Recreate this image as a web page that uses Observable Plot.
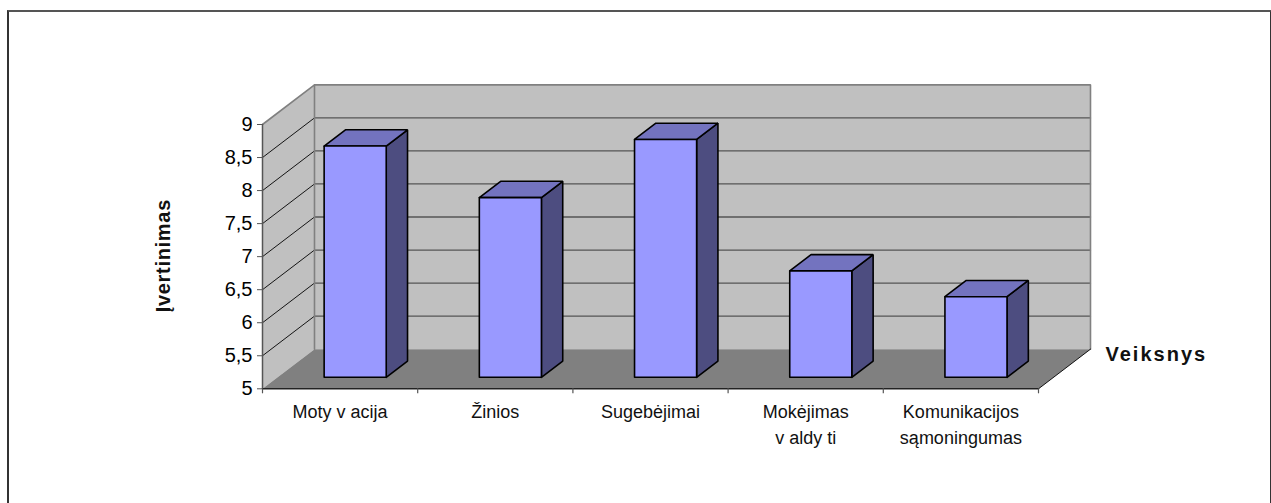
<!DOCTYPE html>
<html lang="lt">
<head>
<meta charset="utf-8">
<style>
  html, body { margin: 0; padding: 0; background: #fff; overflow: hidden; }
  #chart { position: relative; width: 1271px; height: 503px; overflow: hidden; }
  #chart svg { display: block; position: absolute; left: 0; top: 0; background: transparent; }
  #border { position: absolute; left: 7px; top: 10px; width: 1261px; height: 520px;
            border-left: 2px solid #333; border-right: 2px solid #333; border-top: 2px solid #555; }
  .spaced { letter-spacing: 2px; }
  .spaced-slight { letter-spacing: 0.7px; }
</style>
<script src="https://cdn.jsdelivr.net/npm/d3@7"></script>
<script src="https://cdn.jsdelivr.net/npm/@observablehq/plot@0.6"></script>
</head>
<body>
<div id="chart"><div id="border"></div></div>
<script>
const categories = ["Moty v acija", "Žinios", "Sugebėjimai", "Mokėjimas\nv aldy ti", "Komunikacijos\nsąmoningumas"];
const scores = [8.5, 7.72, 8.6, 6.61, 6.22];
const valueTicks = [5, 5.5, 6, 6.5, 7, 7.5, 8, 8.5, 9];
const categoryEdges = [0, 1, 2, 3, 4, 5];

// Oblique projection: a point at depth d in [0, 1] shifts right and up in data units.
const shiftX = 0.335;
const shiftY = 0.6;
const at = (u, v, d) => ({x: u + d * shiftX, y: v + d * shiftY});

// Bars sit inside the depth range, centred on their category.
const barWidth = 0.4;
const barNear = 0.29;
const barFar = 0.7;
const base = 5;

// Closed outline through [u, v, d] corners, tagged so Plot.line keeps faces apart.
const face = (id, corners) => [...corners, corners[0]].map(([u, v, d]) => ({id, ...at(u, v, d)}));

const frontFaces = scores.flatMap((s, i) => {
  const a = i + 0.5 - barWidth / 2, b = i + 0.5 + barWidth / 2;
  return face(i, [[a, base, barNear], [b, base, barNear], [b, s, barNear], [a, s, barNear]]);
});
const topFaces = scores.flatMap((s, i) => {
  const a = i + 0.5 - barWidth / 2, b = i + 0.5 + barWidth / 2;
  return face(i, [[a, s, barNear], [b, s, barNear], [b, s, barFar], [a, s, barFar]]);
});
const sideFaces = scores.flatMap((s, i) => {
  const b = i + 0.5 + barWidth / 2;
  return face(i, [[b, base, barNear], [b, base, barFar], [b, s, barFar], [b, s, barNear]]);
});

const backWall = face("back", [[0, 5, 1], [5, 5, 1], [5, 9, 1], [0, 9, 1]]);
const sideWall = face("side", [[0, 5, 0], [0, 5, 1], [0, 9, 1], [0, 9, 0]]);
const floor = face("floor", [[0, 5, 0], [5, 5, 0], [5, 5, 1], [0, 5, 1]]);

const innerTicks = valueTicks.slice(1, -1);
const backGrid = innerTicks.flatMap(v => [{id: v, ...at(0, v, 1)}, {id: v, ...at(5, v, 1)}]);
const sideGrid = innerTicks.flatMap(v => [{id: v, ...at(0, v, 0)}, {id: v, ...at(0, v, 1)}]);
const wallEdge = [at(0, 5, 1), at(0, 9, 1), at(5, 9, 1), at(5, 5, 1)];
const sideTopEdge = [at(0, 9, 0), at(0, 9, 1)];
const floorEdge = [at(5, 5, 0), at(5, 5, 1)];
const leftAxis = [at(0, 5, 0), at(0, 9, 0)];
const bottomAxis = [at(0, 5, 0), at(5, 5, 0)];

const line = (data, options) => Plot.line(data, {x: "x", y: "y", strokeLinejoin: "miter", ...options});
const ink = "#000";

const chart = Plot.plot({
  width: 1271,
  height: 503,
  marginLeft: 262,
  marginRight: 233,
  marginTop: 124,
  marginBottom: 114.7,
  style: {fontFamily: "'Liberation Sans', Arial, sans-serif", color: "#000", background: "transparent"},
  x: {domain: [0, 5], axis: null},
  y: {domain: [5, 9], axis: null},
  marks: [
    line(backWall, {z: "id", fill: "#C0C0C0", stroke: "none"}),
    line(sideWall, {z: "id", fill: "#C0C0C0", stroke: "none"}),
    line(floor, {z: "id", fill: "#808080", stroke: "none"}),
    line(backGrid, {z: "id", stroke: "#555", strokeWidth: 1.3}),
    line(sideGrid, {z: "id", stroke: "#000", strokeWidth: 0.9}),
    line(wallEdge, {stroke: "#808080", strokeWidth: 1.6}),
    line(sideTopEdge, {stroke: "#808080", strokeWidth: 1.6}),
    line(floorEdge, {stroke: "#000", strokeWidth: 0.9}),
    line(leftAxis, {stroke: "#555", strokeWidth: 1.5}),
    line(bottomAxis, {stroke: "#222", strokeWidth: 1.5}),
    Plot.ruleX(categoryEdges, {y1: () => 5, y2: () => 5, insetBottom: -5, stroke: "#555", strokeWidth: 1.2}),
    Plot.axisY({
      ticks: valueTicks,
      tickSize: 5,
      tickPadding: 5,
      fontSize: 20,
      stroke: "#555",
      label: null,
      tickFormat: d => String(d).replace(".", ",")
    }),
    line(sideFaces, {z: "id", fill: "#4D4D80", stroke: ink, strokeWidth: 1.6}),
    line(topFaces, {z: "id", fill: "#7373BF", stroke: ink, strokeWidth: 1.6}),
    line(frontFaces, {z: "id", fill: "#9999FF", stroke: ink, strokeWidth: 1.6}),
    Plot.text(categories, {
      x: (d, i) => i + 0.5,
      y: () => 5,
      dy: 11,
      lineAnchor: "top",
      lineHeight: 1.45,
      fontSize: 18,
      fill: "#111"
    }),
    Plot.text(["Įvertinimas"], {
      x: () => 0,
      y: () => 7,
      dx: -99,
      dy: -1,
      rotate: -90,
      fontSize: 20,
      fontWeight: "bold",
      fill: "#111",
      className: "spaced-slight"
    }),
    Plot.text(["Veiksnys"], {
      x: () => 5,
      y: () => 5,
      dx: 67,
      dy: -34,
      textAnchor: "start",
      fontSize: 20,
      fontWeight: "bold",
      fill: "#111",
      className: "spaced"
    })
  ]
});
document.getElementById("chart").appendChild(chart);
</script>
</body>
</html>
